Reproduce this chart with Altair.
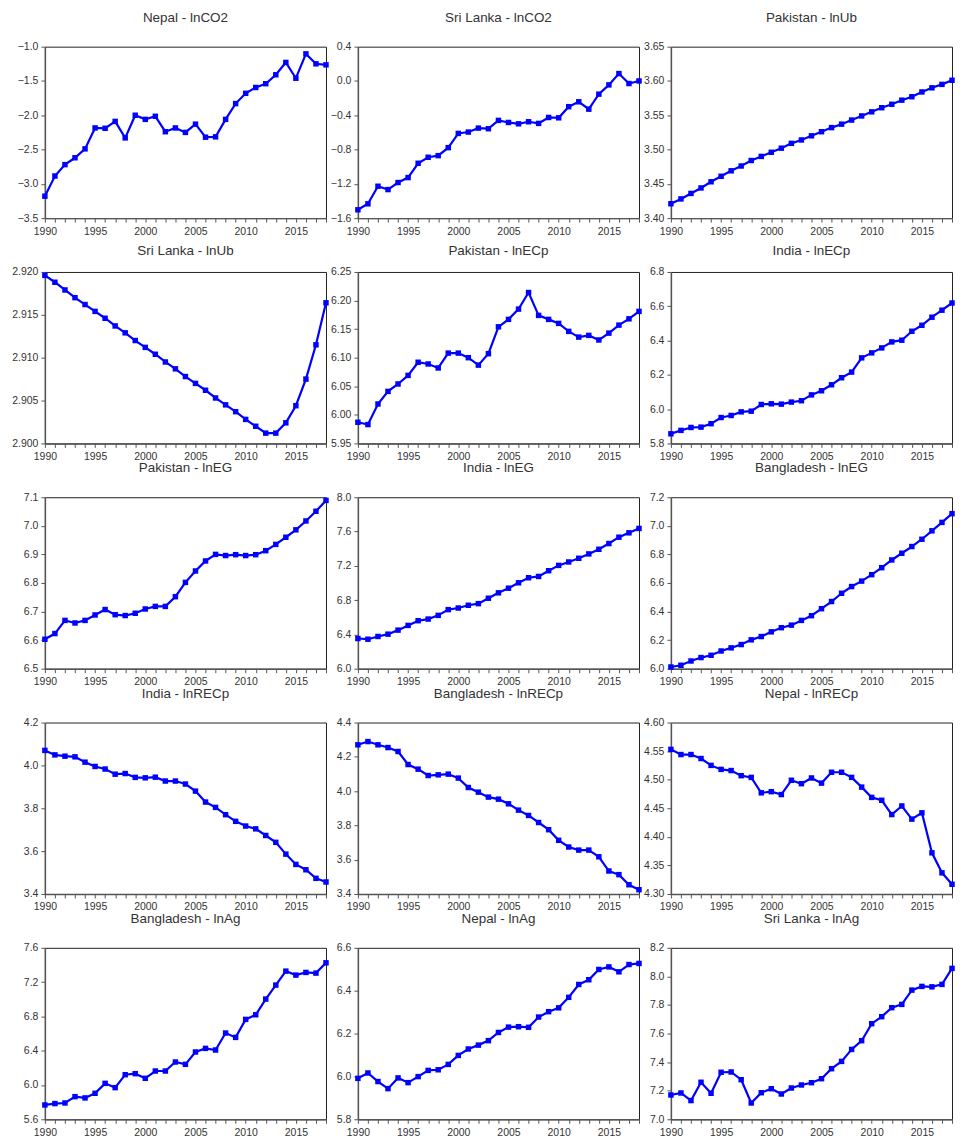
import altair as alt
import pandas as pd

years = list(range(1990, 2019))

nepal_lnco2 = [-3.18, -2.886, -2.72, -2.62, -2.49, -2.185, -2.19, -2.09, -2.33, -2.0,
               -2.06, -2.015, -2.24, -2.185, -2.25, -2.13, -2.32, -2.315, -2.06, -1.83,
               -1.68, -1.595, -1.54, -1.41, -1.23, -1.46, -1.105, -1.25, -1.265]
srilanka_lnco2 = [-1.503, -1.433, -1.228, -1.267, -1.185, -1.127, -0.96, -0.89, -0.871, -0.778,
                  -0.612, -0.596, -0.55, -0.557, -0.46, -0.484, -0.5, -0.476, -0.495, -0.426,
                  -0.43, -0.30, -0.243, -0.329, -0.154, -0.046, 0.086, -0.03, 0.0]
pakistan_lnub = [3.421, 3.428, 3.436, 3.444, 3.453, 3.461, 3.469, 3.476, 3.484, 3.490,
                 3.496, 3.502, 3.509, 3.514, 3.520, 3.526, 3.532, 3.537, 3.543, 3.549,
                 3.555, 3.561, 3.566, 3.572, 3.577, 3.584, 3.590, 3.595, 3.601]
srilanka_lnub = [2.9196, 2.9188, 2.9179, 2.9170, 2.9162, 2.9154, 2.9146, 2.9137, 2.9129, 2.9120,
                 2.9112, 2.9104, 2.9095, 2.9087, 2.9078, 2.9070, 2.9062, 2.9053, 2.9045, 2.9037,
                 2.9028, 2.9020, 2.9012, 2.9012, 2.9024, 2.9044, 2.9075, 2.9115, 2.9164]
pakistan_lnecp = [5.987, 5.983, 6.019, 6.041, 6.054, 6.069, 6.092, 6.089, 6.082, 6.108,
                  6.108, 6.100, 6.087, 6.107, 6.154, 6.167, 6.185, 6.214, 6.174, 6.167,
                  6.160, 6.146, 6.136, 6.139, 6.131, 6.143, 6.157, 6.168, 6.181]
india_lnecp = [5.856, 5.876, 5.893, 5.895, 5.915, 5.951, 5.963, 5.984, 5.988, 6.027,
               6.031, 6.029, 6.041, 6.049, 6.083, 6.107, 6.142, 6.183, 6.216, 6.299,
               6.328, 6.357, 6.392, 6.402, 6.454, 6.489, 6.536, 6.577, 6.619]
pakistan_lneg = [6.603, 6.623, 6.669, 6.660, 6.669, 6.688, 6.707, 6.689, 6.686, 6.694,
                 6.709, 6.718, 6.718, 6.752, 6.802, 6.842, 6.877, 6.900, 6.896, 6.899,
                 6.896, 6.899, 6.913, 6.935, 6.960, 6.986, 7.017, 7.051, 7.089]
india_lneg = [6.352, 6.344, 6.376, 6.403, 6.450, 6.505, 6.560, 6.579, 6.622, 6.689,
              6.708, 6.740, 6.759, 6.822, 6.885, 6.939, 7.002, 7.061, 7.076, 7.143,
              7.205, 7.245, 7.288, 7.339, 7.393, 7.460, 7.534, 7.585, 7.636]
bangladesh_lneg = [6.012, 6.024, 6.054, 6.078, 6.094, 6.124, 6.146, 6.169, 6.202, 6.225,
                   6.258, 6.287, 6.305, 6.338, 6.371, 6.420, 6.470, 6.528, 6.575, 6.613,
                   6.658, 6.707, 6.761, 6.808, 6.855, 6.906, 6.965, 7.024, 7.085]
india_lnrecp = [4.070, 4.049, 4.043, 4.040, 4.015, 3.995, 3.983, 3.959, 3.962, 3.944,
                3.942, 3.945, 3.927, 3.927, 3.913, 3.880, 3.829, 3.804, 3.770, 3.739,
                3.717, 3.704, 3.673, 3.641, 3.586, 3.538, 3.513, 3.473, 3.456]
bangladesh_lnrecp = [4.270, 4.289, 4.270, 4.254, 4.231, 4.155, 4.128, 4.091, 4.095, 4.099,
                     4.076, 4.021, 3.994, 3.965, 3.953, 3.926, 3.889, 3.858, 3.817, 3.775,
                     3.713, 3.674, 3.656, 3.656, 3.617, 3.534, 3.513, 3.454, 3.425]
nepal_lnrecp = [4.553, 4.544, 4.544, 4.537, 4.525, 4.518, 4.516, 4.507, 4.504, 4.477,
                4.479, 4.474, 4.499, 4.493, 4.503, 4.494, 4.513, 4.513, 4.504, 4.487,
                4.469, 4.464, 4.439, 4.454, 4.431, 4.442, 4.372, 4.337, 4.317]
bangladesh_lnag = [5.767, 5.783, 5.790, 5.864, 5.849, 5.903, 6.019, 5.969, 6.120, 6.132,
                   6.078, 6.163, 6.163, 6.268, 6.241, 6.385, 6.427, 6.408, 6.606, 6.555,
                   6.765, 6.819, 7.002, 7.165, 7.328, 7.282, 7.313, 7.305, 7.425]
nepal_lnag = [5.991, 6.016, 5.976, 5.943, 5.993, 5.971, 5.999, 6.028, 6.031, 6.056,
              6.098, 6.128, 6.146, 6.167, 6.205, 6.230, 6.232, 6.229, 6.277, 6.302,
              6.320, 6.369, 6.429, 6.451, 6.499, 6.511, 6.488, 6.522, 6.527]
srilanka_lnag = [7.170, 7.184, 7.131, 7.259, 7.182, 7.329, 7.331, 7.277, 7.114, 7.186,
                 7.214, 7.177, 7.219, 7.240, 7.256, 7.284, 7.354, 7.405, 7.489, 7.550,
                 7.669, 7.718, 7.781, 7.804, 7.904, 7.930, 7.927, 7.944, 8.056]

titles = ["Nepal - lnCO2", "Sri Lanka - lnCO2", "Pakistan - lnUb",
          "Sri Lanka - lnUb", "Pakistan - lnECp", "India - lnECp",
          "Pakistan - lnEG", "India - lnEG", "Bangladesh - lnEG",
          "India - lnRECp", "Bangladesh - lnRECp", "Nepal - lnRECp",
          "Bangladesh - lnAg", "Nepal - lnAg", "Sri Lanka - lnAg"]
series = [nepal_lnco2, srilanka_lnco2, pakistan_lnub,
          srilanka_lnub, pakistan_lnecp, india_lnecp,
          pakistan_lneg, india_lneg, bangladesh_lneg,
          india_lnrecp, bangladesh_lnrecp, nepal_lnrecp,
          bangladesh_lnag, nepal_lnag, srilanka_lnag]
y_ticks = [
    [-3.5, -3.0, -2.5, -2.0, -1.5, -1.0],
    [-1.6, -1.2, -0.8, -0.4, 0.0, 0.4],
    [3.40, 3.45, 3.50, 3.55, 3.60, 3.65],
    [2.900, 2.905, 2.910, 2.915, 2.920],
    [5.95, 6.00, 6.05, 6.10, 6.15, 6.20, 6.25],
    [5.8, 6.0, 6.2, 6.4, 6.6, 6.8],
    [6.5, 6.6, 6.7, 6.8, 6.9, 7.0, 7.1],
    [6.0, 6.4, 6.8, 7.2, 7.6, 8.0],
    [6.0, 6.2, 6.4, 6.6, 6.8, 7.0, 7.2],
    [3.4, 3.6, 3.8, 4.0, 4.2],
    [3.4, 3.6, 3.8, 4.0, 4.2, 4.4],
    [4.30, 4.35, 4.40, 4.45, 4.50, 4.55, 4.60],
    [5.6, 6.0, 6.4, 6.8, 7.2, 7.6],
    [5.8, 6.0, 6.2, 6.4, 6.6],
    [7.0, 7.2, 7.4, 7.6, 7.8, 8.0, 8.2],
]
y_formats = [".1f", ".1f", ".2f", ".3f", ".2f", ".1f", ".1f", ".1f", ".1f",
             ".1f", ".1f", ".2f", ".1f", ".1f", ".1f"]

FONT = "Liberation Sans"
BLUE = "#0000FF"
W, H = 282, 172

panels = []
for i, (ttl, vals, ticks, fmt) in enumerate(zip(titles, series, y_ticks, y_formats)):
    df = pd.DataFrame({"year": years, "v": vals})
    row = i // 3
    title_y = -21 if row == 1 else -29
    base = alt.Chart(df).encode(
        x=alt.X("year:Q",
                scale=alt.Scale(domain=[1990, 2018], nice=False, zero=False),
                axis=alt.Axis(values=years, format="d", title=None, grid=False,
                              labelExpr="datum.value % 5 == 0 ? datum.label : ''",
                              labelOverlap=False, labelFlush=False,
                              tickSize=4, labelPadding=4)),
        y=alt.Y("v:Q",
                scale=alt.Scale(domain=[ticks[0], ticks[-1]], nice=False, zero=False),
                axis=alt.Axis(values=ticks, format=fmt, title=None, grid=False,
                              labelOverlap=False, labelFlush=False,
                              tickSize=4, labelPadding=3)),
    )
    line = base.mark_line(color=BLUE, strokeWidth=2.2)
    pts = base.mark_point(shape="square", filled=True, size=30, color=BLUE, opacity=1)
    txt = alt.Chart(pd.DataFrame({"t": [ttl]})).mark_text(
        font=FONT, fontSize=13.5, color="#333333", align="center", baseline="middle"
    ).encode(text="t:N", x=alt.value(W / 2), y=alt.value(title_y))
    panel = alt.layer(line, pts, txt).properties(width=W, height=H)
    panels.append(panel)

chart = alt.concat(*panels, columns=3, spacing={"row": 54, "column": 32},
                   bounds="flush").configure_view(
    stroke="#222222", strokeWidth=1
).configure_axis(
    domainColor="#555555", domainWidth=1.5, tickColor="#555555", tickWidth=1,
    labelFont=FONT, labelFontSize=10.5, labelColor="#333333"
).properties(background="white", padding={"left": 3, "top": 0, "right": 0, "bottom": 0})

chart.save("out.html", embed_options={"renderer": "svg", "actions": False})
